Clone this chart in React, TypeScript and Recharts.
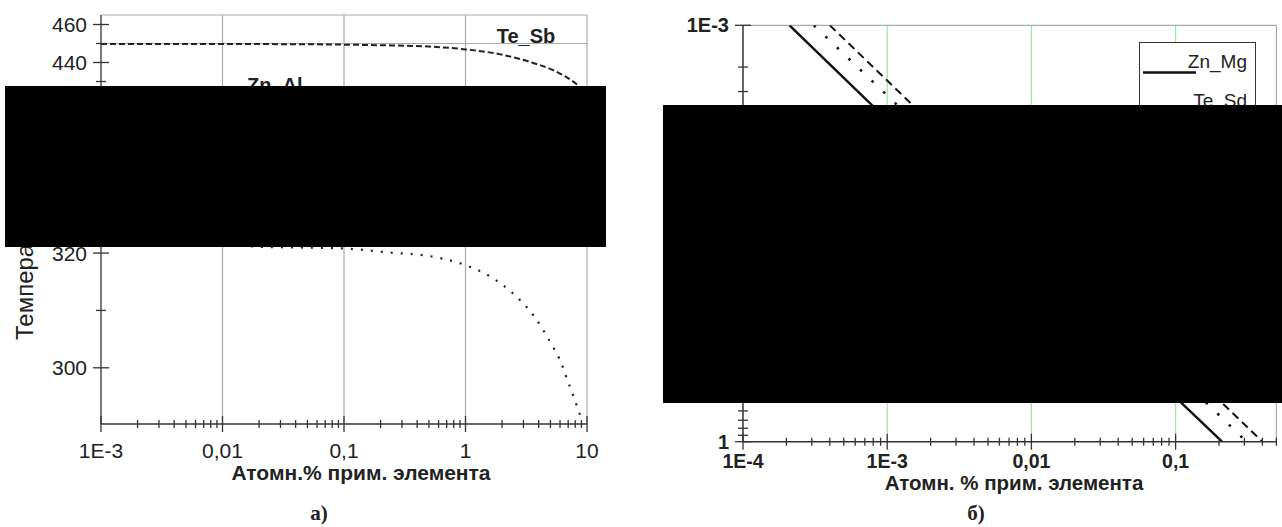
import React from 'react';
import { LineChart, Line, XAxis, YAxis, ReferenceLine, Legend } from 'recharts';

// ---------- panel а): liquidus temperature vs impurity content ----------
const teSbConc = [0.001, 0.002, 0.005, 0.01, 0.02, 0.05, 0.1, 0.2, 0.5, 1, 1.9, 3.55, 5.55, 7.6, 10];
const teSbTemp = [449.8, 449.8, 449.8, 449.8, 449.7, 449.6, 449.4, 449.1, 448.4, 446.9, 444.4, 439.9, 435.3, 430.2, 424.0];

const znAlConc = [0.001, 0.002, 0.005, 0.01, 0.02, 0.05, 0.1, 0.24, 0.53, 1, 1.6, 2.45, 3.6, 5.1, 6.2, 6.7, 7.5, 8.3, 9.2];
const znAlTemp = [321.6, 321.6, 321.6, 321.5, 321.1, 320.95, 320.8, 320.1, 319.4, 317.9, 315.9, 313.0, 309.2, 304.1, 300.6, 298.6, 295.8, 293.2, 290.5];

const tempTicksUpper = [370, 380, 390, 400, 410, 420, 430, 440, 450, 460];
const tempTicksLower = [300, 310, 320, 330, 340];
const teMelt = 450;

const concMajorA = [0.001, 0.01, 0.1, 1, 10];
const concLabelsA = ['1E-3', '0,01', '0,1', '1', '10'];

// ---------- panel б) ----------
const znMgConc = [2.1e-4, 0.001, 0.01, 0.1, 0.21];
const znMgK = [0.001, 0.0048, 0.048, 0.48, 1];
const teSdConc = [3.1e-4, 0.001, 0.01, 0.1, 0.31];
const teSdK = [0.001, 0.0032, 0.032, 0.32, 1];
const teSbConcB = [4e-4, 0.001, 0.01, 0.1, 0.4];
const teSbK = [0.001, 0.0025, 0.025, 0.25, 1];

const concMajorB = [1e-4, 1e-3, 0.01, 0.1];
const concLabelsB = ['1E-4', '1E-3', '0,01', '0,1'];
const kMajor = [0.001, 0.01, 0.1, 1];
const kLabels = ['1E-3', '0,01', '0,1', '1'];

const mantissas = [1, 2, 3, 4, 5, 6, 7, 8, 9];

const FONT = '"Liberation Sans", Arial, sans-serif';
const SERIF = '"Liberation Serif", "Times New Roman", serif';
const AXIS = '#333';
const GRID = '#aaa';
const GREEN = '#9be89b';

const logTicks = (majors: number[], max: number) =>
  majors
    .flatMap((d) => mantissas.map((m) => +(m * d).toPrecision(3)))
    .filter((v) => v <= max * 1.0001);

const labelFor = (v: number, majors: number[], labels: string[]) => {
  const i = majors.findIndex((m) => Math.abs(v / m - 1) < 1e-6);
  return i >= 0 ? labels[i] : null;
};

const pairs = (xs: number[], ys: number[], key: string) => xs.map((c, i) => ({ c, [key]: ys[i] }));

const teSbData = pairs(teSbConc, teSbTemp, 't');
const znAlData = pairs(znAlConc, znAlTemp, 't');
const znMgData = pairs(znMgConc, znMgK, 'k');
const teSdData = pairs(teSdConc, teSdK, 'k');
const teSbDataB = pairs(teSbConcB, teSbK, 'k');

const seriesB = [
  { name: 'Zn_Mg', data: znMgData, width: 2.4, dash: undefined as string | undefined },
  { name: 'Te_Sd', data: teSdData, width: 2.6, dash: '2.5 13.5' },
  { name: 'Te_Sb', data: teSbDataB, width: 2, dash: '8 5' },
];

// crossing "+" ticks, labels only on majors
const xTick = (majors: number[], labels: string[], o: { size: number; bold: boolean; dy: number }) =>
  (props: any) => {
    const { x, y, payload } = props;
    const lbl = labelFor(payload.value, majors, labels);
    return (
      <g>
        <line x1={x} x2={x} y1={y - (lbl ? 8 : 4)} y2={y + (lbl ? 8 : 4)} stroke={AXIS} strokeWidth={1.3} />
        {lbl && (
          <text x={x} y={y + o.dy} textAnchor="middle" fontSize={o.size} fontWeight={o.bold ? 700 : 400} fill="#222" fontFamily={FONT}>
            {lbl}
          </text>
        )}
      </g>
    );
  };

const yTick = (isMajor: (v: number) => string | null, o: { size: number; bold: boolean; dx: number; dy: number }) =>
  (props: any) => {
    const { x, y, payload } = props;
    const lbl = isMajor(payload.value);
    return (
      <g>
        <line x1={x - (lbl ? 8 : 5)} x2={x + (lbl ? 8 : 5)} y1={y} y2={y} stroke={AXIS} strokeWidth={1.3} />
        {lbl && (
          <text x={x - o.dx} y={y + o.dy} textAnchor="end" fontSize={o.size} fontWeight={o.bold ? 700 : 400} fill="#222" fontFamily={FONT}>
            {lbl}
          </text>
        )}
      </g>
    );
  };

const tempLabel = (v: number) => (v % 20 === 0 ? String(v) : null);

const concTickA = xTick(concMajorA, concLabelsA, { size: 21, bold: false, dy: 34 });
const concTickB = xTick(concMajorB, concLabelsB, { size: 19.5, bold: true, dy: 26 });
const tempTick = yTick(tempLabel, { size: 21, bold: false, dx: 14, dy: 7.5 });
const kTick = yTick((v) => labelFor(v, kMajor, kLabels), { size: 20, bold: true, dx: 14, dy: 7 });

const LegendBox = () => (
  <svg width={117} height={130} style={{ display: 'block' }}>
    <rect x={0.5} y={0.5} width={116} height={129} fill="#fff" stroke={AXIS} strokeWidth={1} />
    {seriesB.map((s, i) => (
      <g key={s.name}>
        <text x={108} y={26 + i * 39} textAnchor="end" fontSize={19} fontFamily={FONT} fill="#222">
          {s.name}
        </text>
        <line x1={4} x2={57} y1={30.5 + i * 39} y2={30.5 + i * 39} stroke="#111" strokeWidth={s.width + 0.3} strokeDasharray={s.dash} />
      </g>
    ))}
  </svg>
);

export default function App() {
  const concTicksA = logTicks(concMajorA, 10);
  const concTicksB = logTicks(concMajorB, 0.5);
  const kTicks = logTicks(kMajor, 1);
  const decadesA = concMajorA.slice(1, -1);

  return (
    <div style={{ position: 'absolute', left: 0, top: 0, width: 1282, height: 527, background: '#fff', fontFamily: FONT, overflow: 'hidden' }}>
      {/* а) upper part of the broken temperature axis */}
      <div style={{ position: 'absolute', left: 0, top: 0 }}>
        <LineChart width={620} height={220} margin={{ top: 15, right: 33, bottom: 24.5, left: 0 }}>
          <XAxis type="number" dataKey="c" scale="log" domain={[0.001, 10]} allowDataOverflow hide />
          <YAxis type="number" domain={[370, 465]} allowDataOverflow ticks={tempTicksUpper} interval={0} width={101}
            tickSize={0} tickMargin={0} tickLine={false} tick={tempTick} axisLine={{ stroke: AXIS, strokeWidth: 1.3 }} />
          {decadesA.map((d) => <ReferenceLine key={d} x={d} stroke={GRID} strokeWidth={1.2} />)}
          <ReferenceLine x={10} stroke={GRID} strokeWidth={1.2} />
          <ReferenceLine y={465} stroke={GRID} strokeWidth={1.2} />
          <ReferenceLine y={teMelt} stroke={GRID} strokeWidth={1} />
          <Line data={teSbData} dataKey="t" type="monotone" stroke="#222" strokeWidth={2} strokeDasharray="6 3" dot={false} isAnimationActive={false} />
        </LineChart>
      </div>

      {/* а) lower part with the concentration axis */}
      <div style={{ position: 'absolute', left: 0, top: 0 }}>
        <LineChart width={620} height={527} margin={{ top: 109.7, right: 33, bottom: 63, left: 0 }}>
          <XAxis type="number" dataKey="c" scale="log" domain={[0.001, 10]} allowDataOverflow ticks={concTicksA} interval={0}
            height={40} tickSize={0} tickMargin={0} tickLine={false} tick={concTickA} axisLine={{ stroke: AXIS, strokeWidth: 1.3 }} />
          <YAxis type="number" domain={[290.2, 345]} allowDataOverflow ticks={tempTicksLower} interval={0} width={101}
            tickSize={0} tickMargin={0} tickLine={false} tick={tempTick} axisLine={{ stroke: AXIS, strokeWidth: 1.3 }} />
          {decadesA.map((d) => <ReferenceLine key={d} x={d} stroke={GRID} strokeWidth={1.2} />)}
          <ReferenceLine x={10} stroke={GRID} strokeWidth={1.2} />
          <Line data={znAlData} dataKey="t" type="monotone" stroke="#222" strokeWidth={2.2} strokeDasharray="2 8" dot={false} isAnimationActive={false} />
        </LineChart>
      </div>

      {/* б) */}
      <div style={{ position: 'absolute', left: 640, top: 0 }}>
        <LineChart width={642} height={527} margin={{ top: 25.3, right: 5.6, bottom: 45.3, left: 0 }}>
          <XAxis type="number" dataKey="c" scale="log" domain={[1e-4, 0.5]} allowDataOverflow ticks={concTicksB} interval={0}
            height={40} tickSize={0} tickMargin={0} tickLine={false} tick={concTickB} axisLine={{ stroke: AXIS, strokeWidth: 1.5 }} />
          <YAxis type="number" scale="log" domain={[0.001, 1]} allowDataOverflow reversed ticks={kTicks} interval={0} width={103}
            tickSize={0} tickMargin={0} tickLine={false} tick={kTick} axisLine={{ stroke: AXIS, strokeWidth: 1.5 }} />
          {concMajorB.slice(1).map((d) => <ReferenceLine key={d} x={d} stroke={GREEN} strokeWidth={1.2} />)}
          <ReferenceLine x={0.5} stroke={GRID} strokeWidth={1.2} />
          <ReferenceLine y={0.001} stroke={GRID} strokeWidth={1.2} />
          {seriesB.map((s) => (
            <Line key={s.name} name={s.name} data={s.data} dataKey="k" type="linear" stroke="#111" strokeWidth={s.width}
              strokeDasharray={s.dash} dot={false} isAnimationActive={false} />
          ))}
          <Legend layout="vertical" align="center" verticalAlign="middle" content={() => <LegendBox />}
            wrapperStyle={{ left: 499, top: 42, width: 117, height: 130 }} />
        </LineChart>
      </div>

      {/* titles and captions */}
      <svg width={1282} height={527} style={{ position: 'absolute', left: 0, top: 0, pointerEvents: 'none' }} fontFamily={FONT} fill="#222">
        <text x={526} y={42.5} textAnchor="middle" fontSize={20} fontWeight={700}>Te_Sb</text>
        <text x={247} y={92} fontSize={20} fontWeight={700}>Zn_Al</text>
        <text x={33} y={340} fontSize={24} transform="rotate(-90 33 340)">Температура, °С</text>
        <text x={361} y={480} textAnchor="middle" fontSize={21} fontWeight={700}>Атомн.% прим. элемента</text>
        <text x={1014} y={490} textAnchor="middle" fontSize={20.5} fontWeight={700}>Атомн. % прим. элемента</text>
        <text x={319} y={520} textAnchor="middle" fontSize={21} fontWeight={700} fontFamily={SERIF}>а)</text>
        <text x={976} y={520} textAnchor="middle" fontSize={21} fontWeight={700} fontFamily={SERIF}>б)</text>
      </svg>

      {/* masked areas of the original figure */}
      <div style={{ position: 'absolute', left: 5, top: 86, width: 601, height: 161, background: '#000', zIndex: 10 }} />
      <div style={{ position: 'absolute', left: 663, top: 105, width: 619, height: 298, background: '#000', zIndex: 10 }} />
    </div>
  );
}
